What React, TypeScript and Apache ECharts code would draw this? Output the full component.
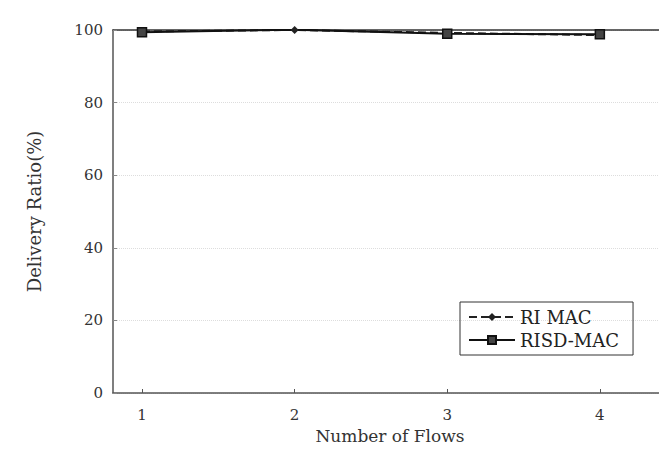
import React, { useEffect, useRef } from "react";
import * as echarts from "echarts";

const flows = [1, 2, 3, 4];
const riMac = [99.6, 100, 99.2, 98.6];
const risdMac = [99.4, 100.1, 99.0, 98.8];
const yTicks = [0, 20, 40, 60, 80, 100];

const FONT = "DejaVu Serif";

export default function App() {
  const ref = useRef<HTMLDivElement>(null);
  useEffect(() => {
    if (!ref.current) return;
    const chart = echarts.init(ref.current, null, { renderer: "svg" });
    chart.setOption({
      animation: false,
      backgroundColor: "#fff",
      grid: { left: 113, top: 30, right: 0, bottom: 57 },
      legend: {
        left: 460,
        top: 302,
        orient: "vertical",
        borderColor: "#333",
        borderWidth: 1,
        borderRadius: 0,
        padding: [6, 14, 6, 8],
        itemGap: 5,
        itemWidth: 46,
        itemHeight: 10,
        textStyle: { fontFamily: FONT, fontSize: 18, color: "#222" },
        data: ["RI MAC", "RISD-MAC"],
      },
      xAxis: [
        {
          type: "value",
          min: 0.81,
          max: 4.44,
          name: "Number of Flows",
          nameLocation: "middle",
          nameGap: 34,
          nameTextStyle: { fontFamily: FONT, fontSize: 17, color: "#333" },
          axisLine: { show: true, lineStyle: { color: "#555", width: 1.5 } },
          axisTick: {
            show: true,
            inside: true,
            length: 4,
            customValues: flows,
            lineStyle: { color: "#555" },
          },
          axisLabel: {
            customValues: flows,
            fontFamily: FONT,
            fontSize: 15,
            color: "#333",
            margin: 14,
          },
          splitLine: { show: false },
        },
        {
          type: "value",
          position: "top",
          min: 0.81,
          max: 4.44,
          axisLine: { show: true, lineStyle: { color: "#333", width: 1.5 } },
          axisTick: { show: false },
          axisLabel: { show: false },
          splitLine: { show: false },
        },
      ],
      yAxis: {
        type: "value",
        min: 0,
        max: 100,
        interval: 20,
        name: "Delivery Ratio(%)",
        nameLocation: "middle",
        nameGap: 70,
        nameTextStyle: { fontFamily: FONT, fontSize: 18, color: "#333" },
        axisLine: { show: true, lineStyle: { color: "#555", width: 1.5 } },
        axisTick: { show: true, inside: true, length: 4, lineStyle: { color: "#888" } },
        axisLabel: {
          fontFamily: FONT,
          fontSize: 15,
          color: "#333",
          margin: 10,
          formatter: (v: number) => (yTicks.includes(v) ? String(v) : ""),
        },
        splitLine: { show: true, lineStyle: { color: "#ddd", type: "dotted", width: 1 } },
      },
      series: [
        {
          name: "RI MAC",
          type: "line",
          data: flows.map((x, i) => [x, riMac[i]]),
          symbol: "diamond",
          symbolSize: 8,
          itemStyle: { color: "#222" },
          lineStyle: { color: "#222", width: 2, type: "dashed" },
        },
        {
          name: "RISD-MAC",
          type: "line",
          data: flows.map((x, i) => [x, risdMac[i]]),
          symbol: "rect",
          symbolSize: 9,
          itemStyle: { color: "#444", borderColor: "#111", borderWidth: 1.5 },
          lineStyle: { color: "#111", width: 2 },
        },
      ],
    });
    return () => chart.dispose();
  }, []);
  return <div ref={ref} style={{ width: 667, height: 450, margin: -8 }} />;
}
